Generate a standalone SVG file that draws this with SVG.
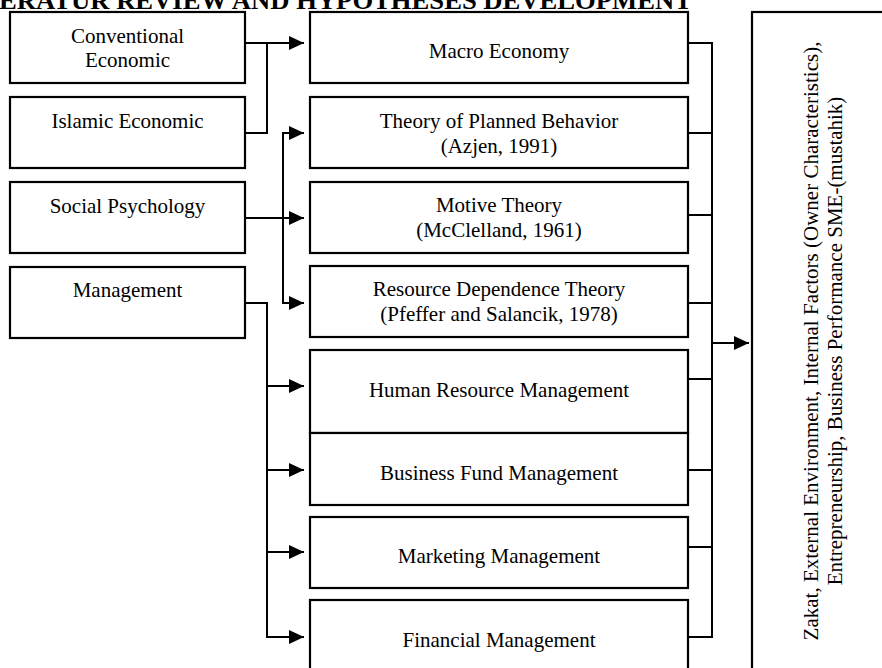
<svg xmlns="http://www.w3.org/2000/svg" width="882" height="668" viewBox="0 0 882 668">
<style>
.box{fill:#fff;stroke:#000;stroke-width:2.2}
.t{font-family:"Liberation Serif","Times New Roman",serif;font-size:21px;fill:#000;text-anchor:middle}
.title{font-family:"Liberation Serif","Times New Roman",serif;font-size:26px;font-weight:bold;fill:#000}
.c{fill:none;stroke:#000;stroke-width:2}
</style>
<defs>
<marker id="arr" markerUnits="userSpaceOnUse" markerWidth="15" markerHeight="14" refX="15" refY="7" orient="auto">
<path d="M0,0 L15,7 L0,14 z" fill="#000"/>
</marker>
</defs>
<rect width="882" height="668" fill="#fff"/>
<text class="title" x="-1" y="9" textLength="693" lengthAdjust="spacingAndGlyphs">ERATUR REVIEW AND HYPOTHESES DEVELOPMENT</text>

<g id="conventional"><rect class="box" x="10" y="12" width="235" height="71"/><text class="t" x="127.5" y="43">Conventional</text><text class="t" x="127.5" y="67">Economic</text></g>
<g id="islamic"><rect class="box" x="10" y="97" width="235" height="71"/><text class="t" x="127.5" y="128">Islamic Economic</text></g>
<g id="social"><rect class="box" x="10" y="182" width="235" height="71"/><text class="t" x="127.5" y="213">Social Psychology</text></g>
<g id="management"><rect class="box" x="10" y="267" width="235" height="71"/><text class="t" x="127.5" y="297">Management</text></g>

<g id="macro"><rect class="box" x="310" y="12" width="378" height="71"/><text class="t" x="499" y="58">Macro Economy</text></g>
<g id="tpb"><rect class="box" x="310" y="97" width="378" height="71"/><text class="t" x="499" y="128">Theory of Planned Behavior</text><text class="t" x="499" y="153">(Azjen, 1991)</text></g>
<g id="motive"><rect class="box" x="310" y="182" width="378" height="71"/><text class="t" x="499" y="212">Motive Theory</text><text class="t" x="499" y="237">(McClelland, 1961)</text></g>
<g id="rdt"><rect class="box" x="310" y="266" width="378" height="71"/><text class="t" x="499" y="296">Resource Dependence Theory</text><text class="t" x="499" y="321">(Pfeffer and Salancik, 1978)</text></g>
<g id="hrm"><rect class="box" x="310" y="350" width="378" height="83"/><text class="t" x="499" y="397">Human Resource Management</text></g>
<g id="bfm"><rect class="box" x="310" y="433" width="378" height="72"/><text class="t" x="499" y="480">Business Fund Management</text></g>
<g id="mkt"><rect class="box" x="310" y="517" width="378" height="71"/><text class="t" x="499" y="563">Marketing Management</text></g>
<g id="fin"><rect class="box" x="310" y="600" width="378" height="90"/><text class="t" x="499" y="647">Financial Management</text></g>

<g id="outcome"><rect class="box" x="752" y="12" width="160" height="690"/>
<g transform="translate(818,341) rotate(-90)"><text class="t" x="0" y="0">Zakat, External Environment, Internal Factors (Owner Characteristics),</text><text class="t" x="0" y="24">Entrepreneurship, Business Performance SME-(mustahik)</text></g>
</g>

<g id="connectors">
<path class="c" d="M245,43 H304" marker-end="url(#arr)"/>
<path class="c" d="M245,133 H267 V43"/>
<path class="c" d="M245,218 H304" marker-end="url(#arr)"/>
<path class="c" d="M304,133 H283 V303 H304" marker-end="url(#arr)"/>
<path class="c" d="M283,133 H304" marker-end="url(#arr)"/>
<path class="c" d="M245,303 H267 V637 H304" marker-end="url(#arr)"/>
<path class="c" d="M267,386 H304" marker-end="url(#arr)"/>
<path class="c" d="M267,470 H304" marker-end="url(#arr)"/>
<path class="c" d="M267,552 H304" marker-end="url(#arr)"/>
<path class="c" d="M688,43 H712 V637 H688"/>
<path class="c" d="M688,133 H712 M688,215 H712 M688,303 H712 M688,379 H712 M688,470 H712 M688,547 H712"/>
<path class="c" d="M712,343 H749" marker-end="url(#arr)"/>
</g>
</svg>
